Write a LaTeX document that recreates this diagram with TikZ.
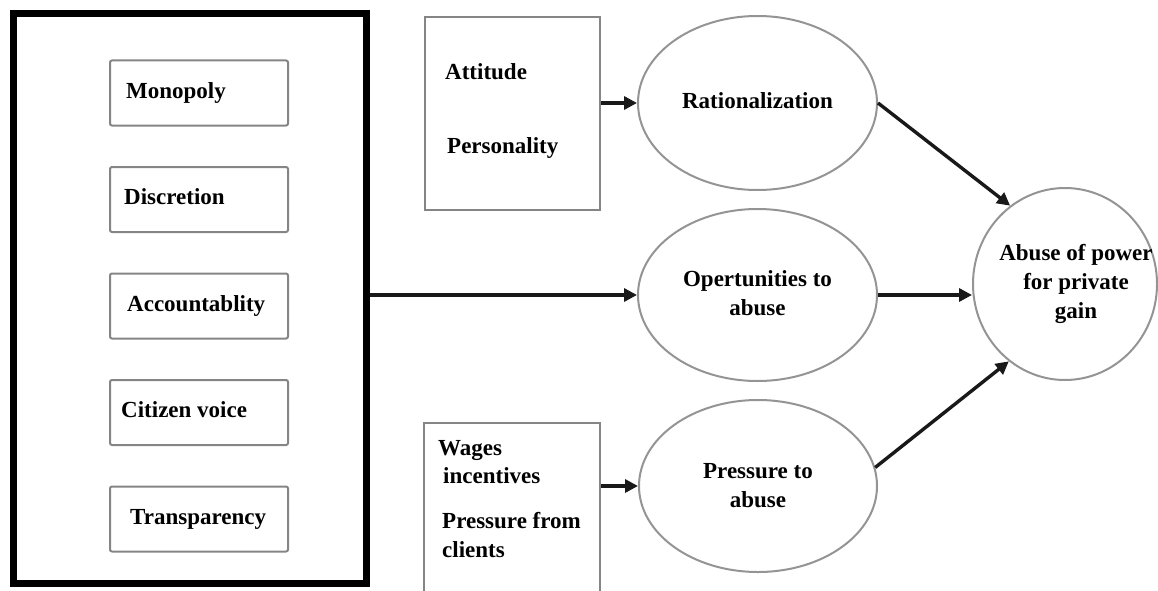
\documentclass[tikz,border=0pt]{standalone}
\usepackage{fontspec}
\setmainfont{Liberation Serif}
\usetikzlibrary{shapes.geometric,arrows.meta}
\begin{document}
\begin{tikzpicture}[x=1pt,y=-1pt,
  txt/.style={font=\fontsize{23}{29}\selectfont\bfseries, inner sep=0pt},
  factor/.style={draw=black!48, line width=2pt, rounded corners=2pt, minimum width=178pt, minimum height=65pt, inner sep=0pt},
  srcbox/.style={draw=black!48, line width=2pt, inner sep=0pt},
  oval/.style={draw=black!42, line width=2pt, ellipse, inner sep=0pt},
  arr/.style={-{Triangle[length=13pt,width=13pt]}, line width=3.4pt, black!90}
]
\useasboundingbox (0,0) rectangle (1158,591);

% left block
\node[draw, line width=7pt, minimum width=353pt, minimum height=570pt, inner sep=0pt] (left) at (190,298.5) {};
\node[factor] (b1) at (199,93) {};
\node[factor] (b2) at (199,199.5) {};
\node[factor] (b3) at (199,306) {};
\node[factor] (b4) at (199,412.5) {};
\node[factor] (b5) at (199,519) {};
\node[txt, anchor=mid west] at ([xshift=17pt,yshift=-3pt]b1.west) {Monopoly};
\node[txt, anchor=mid west] at ([xshift=15pt,yshift=-3pt]b2.west) {Discretion};
\node[txt, anchor=mid west] at ([xshift=18pt,yshift=-3pt]b3.west) {Accountablity};
\node[txt, anchor=mid west] at ([xshift=12pt,yshift=-3pt]b4.west) {Citizen voice};
\node[txt, anchor=mid west] at ([xshift=21pt,yshift=-3pt]b5.west) {Transparency};

% source boxes
\node[srcbox, minimum width=175pt, minimum height=193pt] (att) at (512.5,113.5) {};
\node[txt, anchor=base west] at (445,80) {Attitude};
\node[txt, anchor=base west] at (447,153) {Personality};

\node[srcbox, minimum width=176pt, minimum height=173pt] (wag) at (512,509.5) {};
\node[txt, anchor=base west] at (438,455) {Wages};
\node[txt, anchor=base west] at (443,483) {incentives};
\node[txt, anchor=base west] at (442,528) {Pressure from};
\node[txt, anchor=base west] at (442,557) {clients};

% ellipses
\node[oval, minimum width=239pt, minimum height=174pt] (rat) at (757.5,103) {};
\node[txt] at ([yshift=2pt]rat.center) {Rationalization};
\node[oval, minimum width=239pt, minimum height=172pt] (opp) at (757.5,295) {};
\node[txt, align=center] at ([yshift=2pt]opp.center) {Opertunities to\\abuse};
\node[oval, minimum width=238pt, minimum height=172pt] (pre) at (758,486) {};
\node[txt, align=center] at (pre.center) {Pressure to\\abuse};
\node[oval, minimum width=184pt, minimum height=192pt] (ab) at (1065,284) {};
\node[txt, align=center] at ([xshift=11pt,yshift=0pt]ab.center) {Abuse of power\\for private\\gain};

% connectors
\draw[arr] (att.east |- rat.west) -- (rat.west);
\draw[arr] (left.east |- opp.west) -- (opp.west);
\draw[arr] (wag.east |- pre.west) -- (pre.west);
\draw[arr] (rat.east) -- (ab.125);
\draw[arr] (opp.east) -- (opp.east -| ab.west);
\draw[arr] (pre.9) -- (ab.234);
\end{tikzpicture}
\end{document}
